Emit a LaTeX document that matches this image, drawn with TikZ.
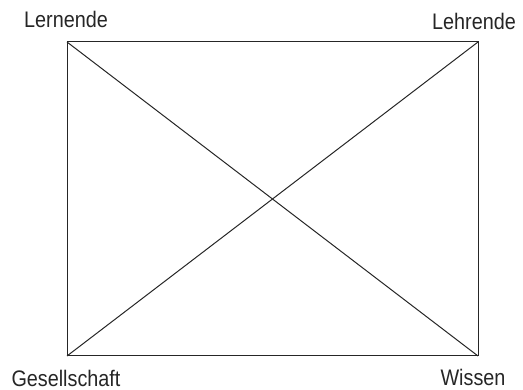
\documentclass[tikz,border=0pt]{standalone}
\usepackage{fontspec}
\setmainfont{Liberation Sans}[FakeStretch=0.88]
\begin{document}
\begin{tikzpicture}[x=1pt,y=1pt,
  lbl/.style={font=\fontsize{22.5}{26}\selectfont, text=black!85, inner sep=0pt, anchor=base},
  edge/.style={draw=black!85, line width=1pt}]
\useasboundingbox (0,0) rectangle (523,390);
\coordinate (LE) at (67,348);
\coordinate (LH) at (478,348);
\coordinate (GE) at (67,34);
\coordinate (WI) at (478,34);
\draw[edge] (LE) -- (LH) -- (WI) -- (GE) -- cycle;
\draw[edge] (LE) -- (WI);
\draw[edge] (LH) -- (GE);
\node[lbl] (tLE) at (66,362) {Lernende};
\node[lbl] (tLH) at (474,360) {Lehrende};
\node[lbl] (tGE) at (66,3.5) {Gesellschaft};
\node[lbl] (tWI) at (473,4.5) {Wissen};
\end{tikzpicture}
\end{document}
